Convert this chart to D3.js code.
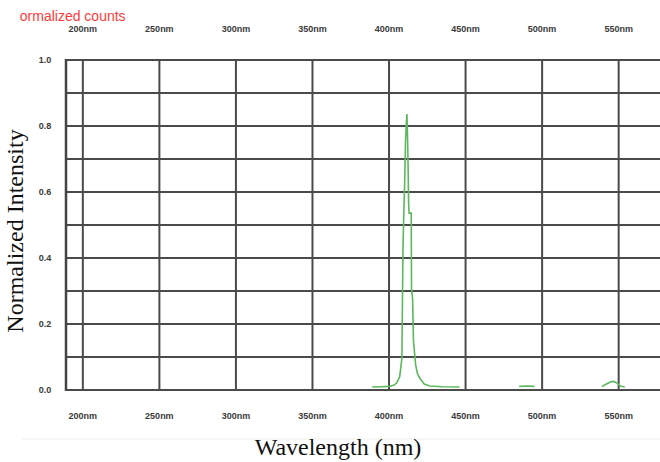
<!DOCTYPE html>
<html>
<head>
<meta charset="utf-8">
<script src="https://cdn.jsdelivr.net/npm/d3@7"></script>
<style>
  body { margin: 0; background: #fff; }
  svg { display: block; }
</style>
</head>
<body>
<svg class="Chart" width="660" height="462"></svg>
<script>
// wavelength ticks (nm) and intensity ticks
let xTicks = [200, 250, 300, 350, 400, 450, 500, 550];
let yTicks = [0, 0.2, 0.4, 0.6, 0.8, 1.0];
let yGrid = [0, 0.1, 0.2, 0.3, 0.4, 0.5, 0.6, 0.7, 0.8, 0.9, 1.0];

// spectrum; null = gap in the trace
let wavelength = [389, 395, 400, 403, 405, 407, 408.4, 409.1, 409.5, 410.2, 410.8, 411.3, 411.7,
                  412.1, 412.5, 412.8, 413.1, 414.5, 414.7, 415.4, 416, 417.4, 418.5, 420, 423, 426.5, 435, 446,
                  447, 485, 490, 495, 496, 539, 542, 545, 546.6, 549, 551, 554];
let intensity = [0.003, 0.004, 0.005, 0.008, 0.015, 0.035, 0.09, 0.42, 0.5, 0.62, 0.75, 0.8, 0.83,
                 0.76, 0.66, 0.56, 0.53, 0.53, 0.3, 0.27, 0.14, 0.07, 0.045, 0.03, 0.012, 0.006, 0.004, 0.003,
                 null, 0.005, 0.006, 0.005, null, 0.004, 0.012, 0.019, 0.02, 0.015, 0.006, 0.003];

let svg = d3.select(".Chart");
let x = d3.scaleLinear().domain([189, 577]).range([66, 660]);
let y = d3.scaleLinear().domain([0, 1]).range([390, 60]);

let spectrum = wavelength.map((w, i) => ({w: w, v: intensity[i]}));

// red label at top left, its first letter is cut off in the original
svg.append("clipPath")
    .attr("id", "redclip")
    .append("rect")
    .attr("x", 20).attr("y", 0)
    .attr("width", 200).attr("height", 40);

svg.append("text")
    .attr("clip-path", "url(#redclip)")
    .attr("x", 12)
    .attr("y", 21)
    .attr("font-family", "Liberation Sans, Arial, sans-serif")
    .attr("font-size", 14)
    .attr("fill", "#ff3b3b")
    .text("normalized counts");

// faint separator line
svg.append("line")
    .attr("x1", 22).attr("x2", 660)
    .attr("y1", 439).attr("y2", 439)
    .style("stroke", "#efefe8")
    .style("stroke-width", 1);

// grid
svg.selectAll(".hgrid")
    .data(yGrid)
    .join("line")
    .attr("class", "hgrid")
    .attr("x1", x(189)).attr("x2", x(577))
    .attr("y1", d => y(d)).attr("y2", d => y(d))
    .style("stroke", "#4a4a4a")
    .style("stroke-width", 2);

svg.selectAll(".vgrid")
    .data(xTicks)
    .join("line")
    .attr("class", "vgrid")
    .attr("x1", d => x(d)).attr("x2", d => x(d))
    .attr("y1", y(1)).attr("y2", y(0))
    .style("stroke", "#4a4a4a")
    .style("stroke-width", 2);

// left frame edge
svg.append("line")
    .attr("x1", x(189)).attr("x2", x(189))
    .attr("y1", y(1) - 1).attr("y2", y(0) + 1)
    .style("stroke", "#444")
    .style("stroke-width", 2.5);

// tick labels
let tickFont = "Liberation Sans, Arial, sans-serif";
[29, 416].forEach(function(ty) {
    svg.selectAll(".xt" + ty)
        .data(xTicks)
        .join("text")
        .attr("class", "xt" + ty)
        .attr("x", d => x(d))
        .attr("y", ty)
        .attr("dy", ".32em")
        .attr("text-anchor", "middle")
        .attr("font-family", tickFont)
        .attr("font-size", 9)
        .attr("font-weight", "bold")
        .attr("fill", "#3a3a3a")
        .text(d => d + "nm");
});

svg.selectAll(".yt")
    .data(yTicks)
    .join("text")
    .attr("class", "yt")
    .attr("x", 45)
    .attr("y", d => y(d))
    .attr("dy", ".32em")
    .attr("text-anchor", "middle")
    .attr("font-family", tickFont)
    .attr("font-size", 9)
    .attr("font-weight", "bold")
    .attr("fill", "#3a3a3a")
    .text(d => d.toFixed(1));

// spectrum trace
let line = d3.line()
    .defined(d => d.v !== null)
    .x(d => x(d.w))
    .y(d => y(d.v) - 2);

svg.append("path")
    .datum(spectrum)
    .attr("d", line)
    .style("fill", "none")
    .style("stroke", "#5cb85c")
    .style("stroke-width", 1.6);

// axis titles
svg.append("text")
    .attr("transform", "translate(23,231)rotate(-90)")
    .attr("text-anchor", "middle")
    .attr("font-family", "Liberation Serif, Times New Roman, serif")
    .attr("font-size", 24)
    .attr("fill", "#111")
    .text("Normalized Intensity");

svg.append("text")
    .attr("x", 338)
    .attr("y", 455)
    .attr("text-anchor", "middle")
    .attr("font-family", "Liberation Serif, Times New Roman, serif")
    .attr("font-size", 24)
    .attr("fill", "#111")
    .text("Wavelength (nm)");
</script>
</body>
</html>
